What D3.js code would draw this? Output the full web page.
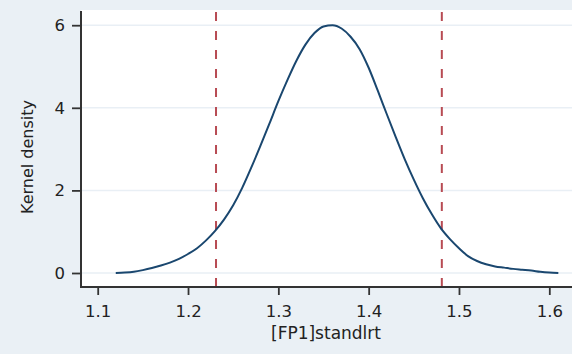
<html>
<head>
    <script src="https://d3js.org/d3.v7.min.js"></script>
    <style>
        body { margin: 0; background: #eaf0f5; }
        text { font-family: "DejaVu Sans", sans-serif; fill: #222; }
    </style>
</head>
<body>
<svg id="chart" width="572" height="354"></svg>
<script>
    // kernel density estimate of [FP1]standlrt, every 0.01
    const gridX = [1.12, 1.13, 1.14, 1.15, 1.16, 1.17, 1.18, 1.19, 1.20, 1.21,
        1.22, 1.23, 1.24, 1.25, 1.26, 1.27, 1.28, 1.29, 1.30, 1.31,
        1.32, 1.33, 1.34, 1.35, 1.36, 1.37, 1.38, 1.39, 1.40, 1.41,
        1.42, 1.43, 1.44, 1.45, 1.46, 1.47, 1.48, 1.49, 1.50, 1.51,
        1.52, 1.53, 1.54, 1.55, 1.56, 1.57, 1.58, 1.59, 1.60, 1.61];
    const density = [0, 0.01, 0.03, 0.07, 0.12, 0.18, 0.25, 0.34, 0.46, 0.60,
        0.79, 1.02, 1.30, 1.64, 2.06, 2.55, 3.07, 3.61, 4.16, 4.67,
        5.14, 5.53, 5.81, 5.97, 6.0, 5.92, 5.72, 5.42, 4.97, 4.42,
        3.85, 3.29, 2.75, 2.26, 1.81, 1.42, 1.08, 0.82, 0.60, 0.41,
        0.29, 0.21, 0.16, 0.13, 0.10, 0.08, 0.06, 0.03, 0.01, 0];
    const cutoffs = [1.231, 1.481];
    const xTicks = [1.1, 1.2, 1.3, 1.4, 1.5, 1.6];
    const yTicks = [0, 2, 4, 6];

    const svg = d3.select("#chart");
    const plot = {left: 81, right: 572, top: 10, bottom: 287};

    const x = d3.scaleLinear().domain([1.1, 1.6]).range([97.7, 549.3]);
    const y = d3.scaleLinear().domain([0, 6]).range([273, 25.2]);

    svg.append("rect")
        .attr("x", plot.left).attr("y", plot.top)
        .attr("width", plot.right - plot.left).attr("height", plot.bottom - plot.top)
        .attr("fill", "white");

    // gridlines
    svg.selectAll("line.grid").data(yTicks)
        .join("line")
        .attr("class", "grid")
        .attr("x1", plot.left).attr("x2", plot.right)
        .attr("y1", d => y(d)).attr("y2", d => y(d))
        .attr("stroke", "#e9eff5")
        .attr("stroke-width", 1.5);

    // cutoff lines
    svg.selectAll("line.cut").data(cutoffs)
        .join("line")
        .attr("class", "cut")
        .attr("x1", d => x(d)).attr("x2", d => x(d))
        .attr("y1", plot.bottom).attr("y2", plot.top)
        .attr("stroke", "#b84b53")
        .attr("stroke-width", 2)
        .attr("stroke-dasharray", "9,10");

    const pts = gridX.map((v, i) => [v, density[i]]);
    svg.append("path")
        .datum(pts)
        .attr("fill", "none")
        .attr("stroke", "#1a476f")
        .attr("stroke-width", 2)
        .attr("stroke-linejoin", "round")
        .attr("d", d3.line()
            .curve(d3.curveMonotoneX)
            .x(d => x(d[0]))
            .y(d => y(d[1])));

    // axes
    const yAxis = svg.append("g")
        .attr("transform", "translate(" + plot.left + ",0)")
        .call(d3.axisLeft(y).tickValues(yTicks).tickSize(9).tickPadding(7).tickFormat(d3.format("d")));
    const xAxis = svg.append("g")
        .attr("transform", "translate(0," + plot.bottom + ")")
        .call(d3.axisBottom(x).tickValues(xTicks).tickSize(8).tickPadding(10).tickFormat(d3.format(".1f")));

    [yAxis, xAxis].forEach(g => {
        g.select(".domain").remove();
        g.selectAll("line").attr("stroke", "#333").attr("stroke-width", 1.8);
        g.selectAll("text").attr("font-size", 16.5).attr("fill", "#222")
            .attr("font-family", "DejaVu Sans");
    });

    svg.append("line")
        .attr("x1", plot.left).attr("x2", plot.left)
        .attr("y1", plot.top + 1).attr("y2", plot.bottom + 1)
        .attr("stroke", "#333").attr("stroke-width", 2);
    svg.append("line")
        .attr("x1", plot.left).attr("x2", plot.right)
        .attr("y1", plot.bottom).attr("y2", plot.bottom)
        .attr("stroke", "#333").attr("stroke-width", 2);

    svg.append("text")
        .attr("x", 326).attr("y", 339)
        .attr("text-anchor", "middle")
        .attr("font-size", 17)
        .text("[FP1]standlrt");

    svg.append("text")
        .attr("transform", "translate(33,157) rotate(-90)")
        .attr("text-anchor", "middle")
        .attr("font-size", 16)
        .text("Kernel density");
</script>
</body>
</html>
